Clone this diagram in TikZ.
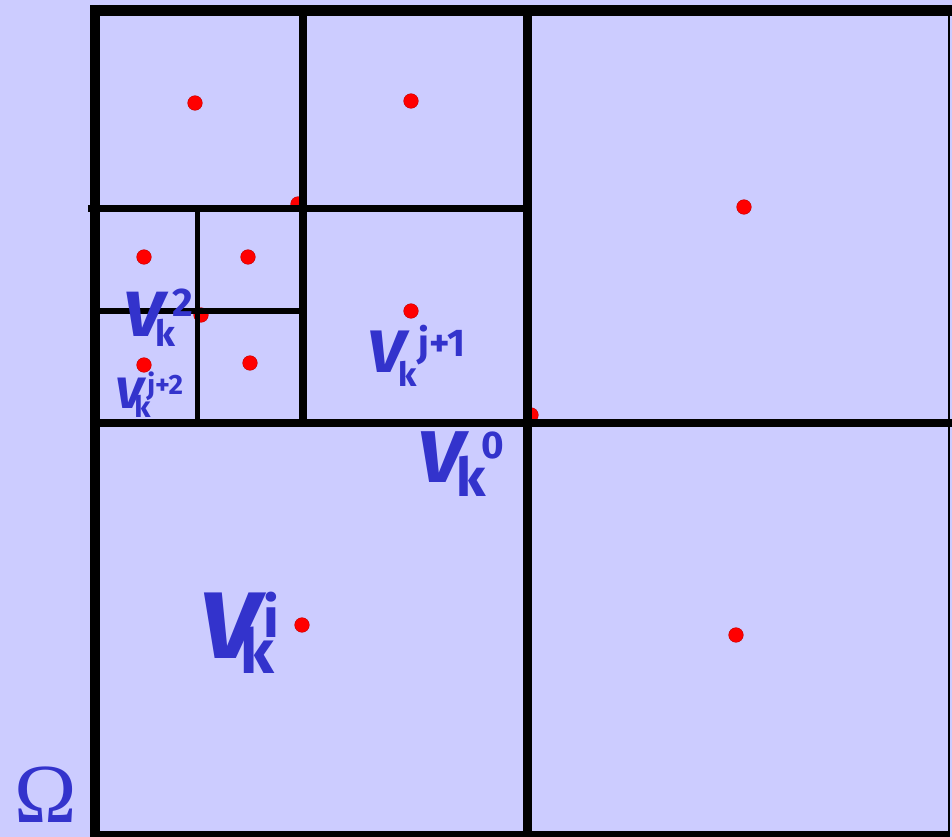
\documentclass[tikz,border=0pt]{standalone}
\usepackage{fontspec}
\newfontfamily\labfont{Fira Sans}
\newfontfamily\omfont{Liberation Serif}
\definecolor{bg}{RGB}{204,204,255}
\definecolor{lab}{RGB}{51,51,204}
\definecolor{dotred}{RGB}{255,0,0}
\begin{document}
\begin{tikzpicture}[x=0.75pt,y=-0.75pt,
  dot/.style={circle,fill=dotred,draw=red!75!black,line width=0.3pt,minimum size=11pt,inner sep=0pt},
  grid/.style={draw=black,line cap=butt},
  lbl/.style={anchor=base west,inner sep=0pt,text=lab},
  bigV/.style={lbl,font=\labfont\bfseries\itshape\fontsize{#1}{#1}\selectfont,xscale=1.12},
  sub/.style={lbl,font=\labfont\bfseries\fontsize{#1}{#1}\selectfont}]
\useasboundingbox[fill=bg] (0,0) rectangle (952,837);
% red points
\node[dot] (p1) at (195,103) {};
\node[dot] (p2) at (411,101) {};
\node[dot] (p3) at (744,207) {};
\node[dot] (p4) at (144,257) {};
\node[dot] (p5) at (248,257) {};
\node[dot] (p6) at (411,311) {};
\node[dot] (p7) at (144,365) {};
\node[dot] (p8) at (250,363) {};
\node[dot] (p9) at (302,625) {};
\node[dot] (p10) at (736,635) {};
\node[dot] (q1) at (298,204) {};
\node[dot] (q2) at (201,315) {};
\node[dot] (q3) at (531,415) {};
% grid lines
\draw[grid,line width=8.25pt] (90,10.5) -- (952,10.5);
\draw[grid,line width=7.5pt] (95,5) -- (95,837);
\draw[grid,line width=4.5pt] (91,834) -- (950,834);
\draw[grid,line width=2pt] (949,6) -- (949,837);
\draw[grid,line width=6.75pt] (527,6) -- (527,837);
\draw[grid,line width=6pt] (91,423) -- (952,423);
\draw[grid,line width=6pt] (303,6) -- (303,426);
\draw[grid,line width=5.25pt] (88,208.5) -- (530,208.5);
\draw[grid,line width=3.75pt] (197.5,206) -- (197.5,426);
\draw[grid,line width=4.5pt] (95,311.5) -- (306,311.5);
% labels
\node[bigV=48] (a1) at (123,337) {V};
\node[sub=27] (a2) at (155,347) {k};
\node[sub=30] (a3) at (172,317) {2};
\node[bigV=33] (b1) at (115,408) {V};
\node[sub=22] (b2) at (134,417) {k};
\node[sub=21] (b3) at (147,395) {j+2};
\node[bigV=45] (c1) at (367,373) {V};
\node[sub=25] (c2) at (398,387) {k};
\node[sub=29] (c3) at (418,357) {j+1};
\node[bigV=55] (d1) at (417,482) {V};
\node[sub=40] (d2) at (456,496) {k};
\node[sub=29] (d3) at (481,458) {0};
\node[bigV=71] (e1) at (199,658) {V};
\node[sub=46] (e2) at (240,673) {k};
\node[sub=42] (e3) at (263,637) {i};
\node[lbl,font=\omfont\fontsize{63}{63}\selectfont] (om) at (14,822) {Ω};
\end{tikzpicture}
\end{document}
